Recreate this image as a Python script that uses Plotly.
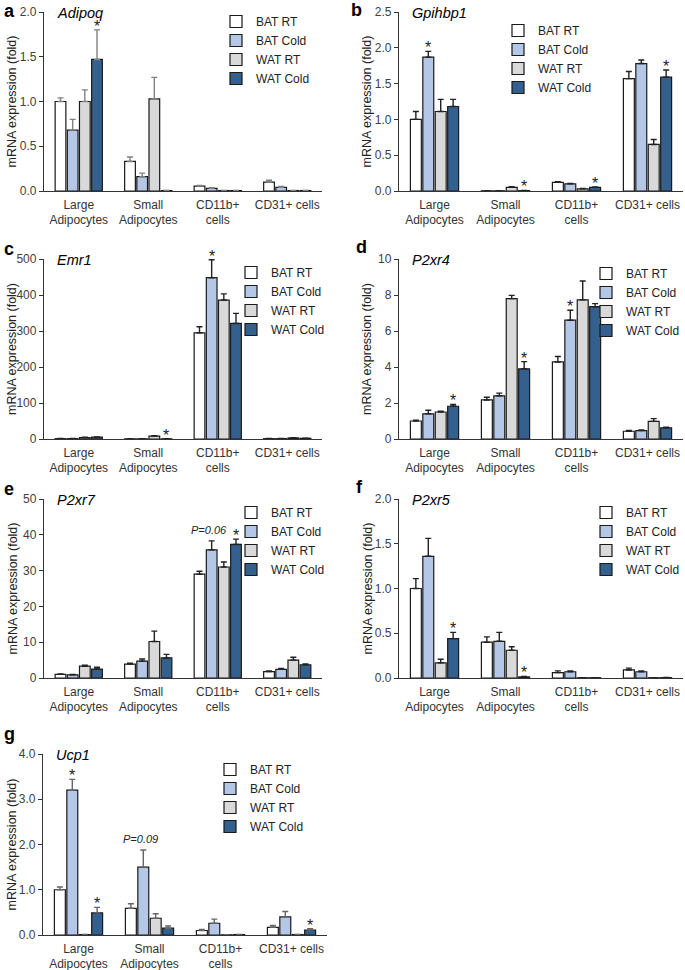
import plotly.graph_objects as go

CATEGORIES = ["Large<br>Adipocytes", "Small<br>Adipocytes", "CD11b+<br>cells", "CD31+ cells"]
SERIES = ["BAT RT", "BAT Cold", "WAT RT", "WAT Cold"]
COLORS = ["#ffffff", "#b4c7e7", "#d9d9d9", "#34608d"]

# mean values per series (BAT RT, BAT Cold, WAT RT, WAT Cold), one value per category
ADIPOQ_MEAN = [[1.00, 0.33, 0.055, 0.10], [0.68, 0.16, 0.03, 0.04],
               [1.00, 1.03, 0.005, 0.005], [1.47, 0.005, 0.005, 0.005]]
ADIPOQ_SEM = [[0.04, 0.05, 0.008, 0.02], [0.12, 0.04, 0.008, 0.01],
              [0.13, 0.24, 0.001, 0.001], [0.33, 0.001, 0.001, 0.001]]

GPIHBP1_MEAN = [[1.00, 0.003, 0.12, 1.57], [1.87, 0.003, 0.10, 1.78],
                [1.11, 0.05, 0.03, 0.65], [1.18, 0.005, 0.05, 1.59]]
GPIHBP1_SEM = [[0.11, 0.001, 0.01, 0.10], [0.08, 0.001, 0.005, 0.05],
               [0.17, 0.01, 0.005, 0.07], [0.10, 0.002, 0.005, 0.10]]

EMR1_MEAN = [[1, 0.5, 295, 1], [1, 0.5, 448, 1], [4, 8, 386, 3], [5, 0.5, 321, 2]]
EMR1_SEM = [[0.3, 0.2, 17, 0.3], [0.3, 0.2, 50, 0.3], [1, 1.5, 17, 0.8], [1, 0.2, 28, 0.5]]

P2XR4_MEAN = [[1.00, 2.17, 4.28, 0.43], [1.40, 2.40, 6.60, 0.47],
              [1.50, 7.80, 7.73, 0.98], [1.82, 3.90, 7.35, 0.62]]
P2XR4_SEM = [[0.05, 0.15, 0.30, 0.05], [0.20, 0.15, 0.55, 0.03],
             [0.05, 0.18, 1.05, 0.15], [0.10, 0.40, 0.17, 0.04]]

P2XR7_MEAN = [[1.0, 3.9, 29.0, 1.8], [0.9, 4.7, 35.8, 2.4],
              [3.3, 10.2, 31.0, 5.0], [2.5, 5.6, 37.3, 3.7]]
P2XR7_SEM = [[0.1, 0.2, 0.8, 0.2], [0.1, 0.6, 2.5, 0.3],
             [0.3, 2.9, 1.4, 0.8], [0.5, 1.0, 1.5, 0.2]]

P2XR5_MEAN = [[1.00, 0.40, 0.06, 0.09], [1.36, 0.41, 0.07, 0.07],
              [0.17, 0.31, 0.003, 0.003], [0.44, 0.012, 0.003, 0.004]]
P2XR5_SEM = [[0.11, 0.06, 0.02, 0.02], [0.20, 0.10, 0.01, 0.01],
             [0.04, 0.04, 0.001, 0.001], [0.07, 0.006, 0.001, 0.001]]

UCP1_MEAN = [[1.00, 0.59, 0.10, 0.17], [3.20, 1.50, 0.26, 0.40],
             [0.01, 0.37, 0.005, 0.01], [0.49, 0.15, 0.01, 0.11]]
UCP1_SEM = [[0.06, 0.10, 0.02, 0.04], [0.24, 0.38, 0.09, 0.12],
            [0.002, 0.10, 0.001, 0.002], [0.12, 0.05, 0.002, 0.03]]

# significance marks: (category index, series index, text)
ADIPOQ_MARKS = [(0, 3, "*")]
GPIHBP1_MARKS = [(0, 1, "*"), (1, 3, "*"), (2, 3, "*"), (3, 3, "*")]
EMR1_MARKS = [(1, 3, "*"), (2, 1, "*")]
P2XR4_MARKS = [(0, 3, "*"), (1, 3, "*"), (2, 1, "*")]
P2XR7_MARKS = [(2, 3, "*"), (2, 1, "<i>P=0.06</i>")]
P2XR5_MARKS = [(0, 3, "*"), (1, 3, "*")]
UCP1_MARKS = [(0, 1, "*"), (0, 3, "*"), (3, 3, "*"), (1, 1, "<i>P=0.09</i>")]

W, H = 685, 970
FONT = "Liberation Sans, Arial, sans-serif"
BARGAP = 0.3


def fx(px):
    return px / W


def fy(py):
    return 1 - py / H


panels = [
    dict(letter="a", gene="Adipoq", mean=ADIPOQ_MEAN, sem=ADIPOQ_SEM, marks=ADIPOQ_MARKS,
         ymax=2.0, dtick=0.5, fmt=".1f", errc="#808080",
         px=(44, 322), py=(12, 191), leg=(251, 21), lab=(2, 11)),
    dict(letter="b", gene="Gpihbp1", mean=GPIHBP1_MEAN, sem=GPIHBP1_SEM, marks=GPIHBP1_MARKS,
         ymax=2.5, dtick=0.5, fmt=".1f", errc="#222222",
         px=(399, 683), py=(12, 191), leg=(533, 30), lab=(349, 10)),
    dict(letter="c", gene="Emr1", mean=EMR1_MEAN, sem=EMR1_SEM, marks=EMR1_MARKS,
         ymax=500, dtick=100, fmt="d", errc="#222222",
         px=(44, 322), py=(259, 439), leg=(266, 272), lab=(2, 249)),
    dict(letter="d", gene="P2xr4", mean=P2XR4_MEAN, sem=P2XR4_SEM, marks=P2XR4_MARKS,
         ymax=10, dtick=2, fmt="d", errc="#222222",
         px=(399, 683), py=(259, 439), leg=(621, 273), lab=(354, 247)),
    dict(letter="e", gene="P2xr7", mean=P2XR7_MEAN, sem=P2XR7_SEM, marks=P2XR7_MARKS,
         ymax=50, dtick=10, fmt="d", errc="#222222",
         px=(44, 322), py=(499, 678), leg=(266, 512), lab=(2, 489)),
    dict(letter="f", gene="P2xr5", mean=P2XR5_MEAN, sem=P2XR5_SEM, marks=P2XR5_MARKS,
         ymax=2.0, dtick=0.5, fmt=".1f", errc="#222222",
         px=(399, 683), py=(499, 678), leg=(621, 512), lab=(354, 487)),
    dict(letter="g", gene="Ucp1", mean=UCP1_MEAN, sem=UCP1_SEM, marks=UCP1_MARKS,
         ymax=4.0, dtick=1.0, fmt=".1f", errc="#666666",
         px=(43, 327), py=(754, 935), leg=(245, 769), lab=(2, 734)),
]

fig = go.Figure()
annotations = []
layout = {}

for k, p in enumerate(panels, start=1):
    sfx = "" if k == 1 else str(k)
    legname = "legend" + sfx
    for i, name in enumerate(SERIES):
        fig.add_trace(go.Bar(
            x=list(range(len(CATEGORIES))), y=p["mean"][i], name=name,
            xaxis="x" + sfx, yaxis="y" + sfx, legend=legname,
            marker=dict(color=COLORS[i], line=dict(color="#1a1a1a", width=1.2)),
            error_y=dict(type="data", array=p["sem"][i], arrayminus=[0] * len(CATEGORIES),
                         symmetric=False, color=p["errc"], thickness=1.4, width=3),
            hoverinfo="skip",
        ))

    x0, x1 = p["px"]
    y0, y1 = p["py"]
    layout["xaxis" + sfx] = dict(
        domain=[fx(x0), fx(x1)], anchor="y" + sfx, range=[-0.5, 3.5],
        tickvals=list(range(len(CATEGORIES))), ticktext=CATEGORIES,
        showline=True, linecolor="#333333", linewidth=1.3,
        ticks="outside", ticklen=2, tickcolor="rgba(0,0,0,0)",
        tickfont=dict(family=FONT, size=12, color="#333333"),
        showgrid=False, zeroline=False, fixedrange=True, automargin=False,
    )
    layout["yaxis" + sfx] = dict(
        domain=[fy(y1), fy(y0)], anchor="x" + sfx, range=[0, p["ymax"]],
        dtick=p["dtick"], tickformat=p["fmt"],
        showline=True, linecolor="#333333", linewidth=1.3,
        ticks="outside", ticklen=4, tickcolor="#333333", tickwidth=1.2,
        tickfont=dict(family=FONT, size=12, color="#404040"),
        showgrid=False, zeroline=False, fixedrange=True, automargin=False,
    )
    # legend text starts ~35px right of the legend box edge, first row ~14px below its top
    tx, ry = p["leg"]
    layout[legname] = dict(
        x=fx(tx - 35), y=fy(ry - 14), xanchor="left", yanchor="top",
        xref="paper", yref="paper", bgcolor="rgba(0,0,0,0)",
        font=dict(family=FONT, size=12, color="#222222"),
        tracegroupgap=0, itemclick=False, itemdoubleclick=False,
    )

    # panel letter, gene name and y title
    lx, ly = p["lab"]
    annotations.append(dict(
        text="<b>%s</b>" % p["letter"], xref="paper", yref="paper",
        x=fx(lx), y=fy(ly),
        xanchor="left", yanchor="middle", showarrow=False,
        font=dict(family=FONT, size=18, color="#000000"),
    ))
    annotations.append(dict(
        text="<i>%s</i>" % p["gene"], xref="paper", yref="paper",
        x=fx(x0 + 11), y=fy(y0 + 1),
        xanchor="left", yanchor="middle", showarrow=False,
        font=dict(family=FONT, size=14.5, color="#000000"),
    ))
    annotations.append(dict(
        text="mRNA expression (fold)", xref="paper", yref="paper",
        x=fx(x0 - 32), y=fy((y0 + y1) / 2), textangle=-90,
        xanchor="center", yanchor="middle", showarrow=False,
        font=dict(family=FONT, size=12.5, color="#222222"),
    ))

    for cat, ser, txt in p["marks"]:
        xpos = cat + (ser - 1.5) / len(SERIES) * (1 - BARGAP)
        top = p["mean"][ser][cat] + p["sem"][ser][cat]
        star = txt == "*"
        annotations.append(dict(
            text=txt, xref="x" + sfx, yref="y" + sfx, x=xpos, y=top,
            xanchor="center", yanchor="bottom", showarrow=False,
            yshift=-7 if star else 3, xshift=0 if star else -3,
            font=dict(family=FONT, size=16 if star else 11, color="#222222"),
        ))

fig.update_layout(
    width=W, height=H, margin=dict(l=0, r=0, t=0, b=0, autoexpand=False),
    paper_bgcolor="white", plot_bgcolor="white",
    barmode="group", bargap=BARGAP, bargroupgap=0.12,
    showlegend=True, annotations=annotations, **layout,
)

# the page body has a default 8px margin; drop it so the figure sits at the window corner
fig.write_html("out.html", config={"displayModeBar": False},
               post_script="document.body.style.margin = '0';")
